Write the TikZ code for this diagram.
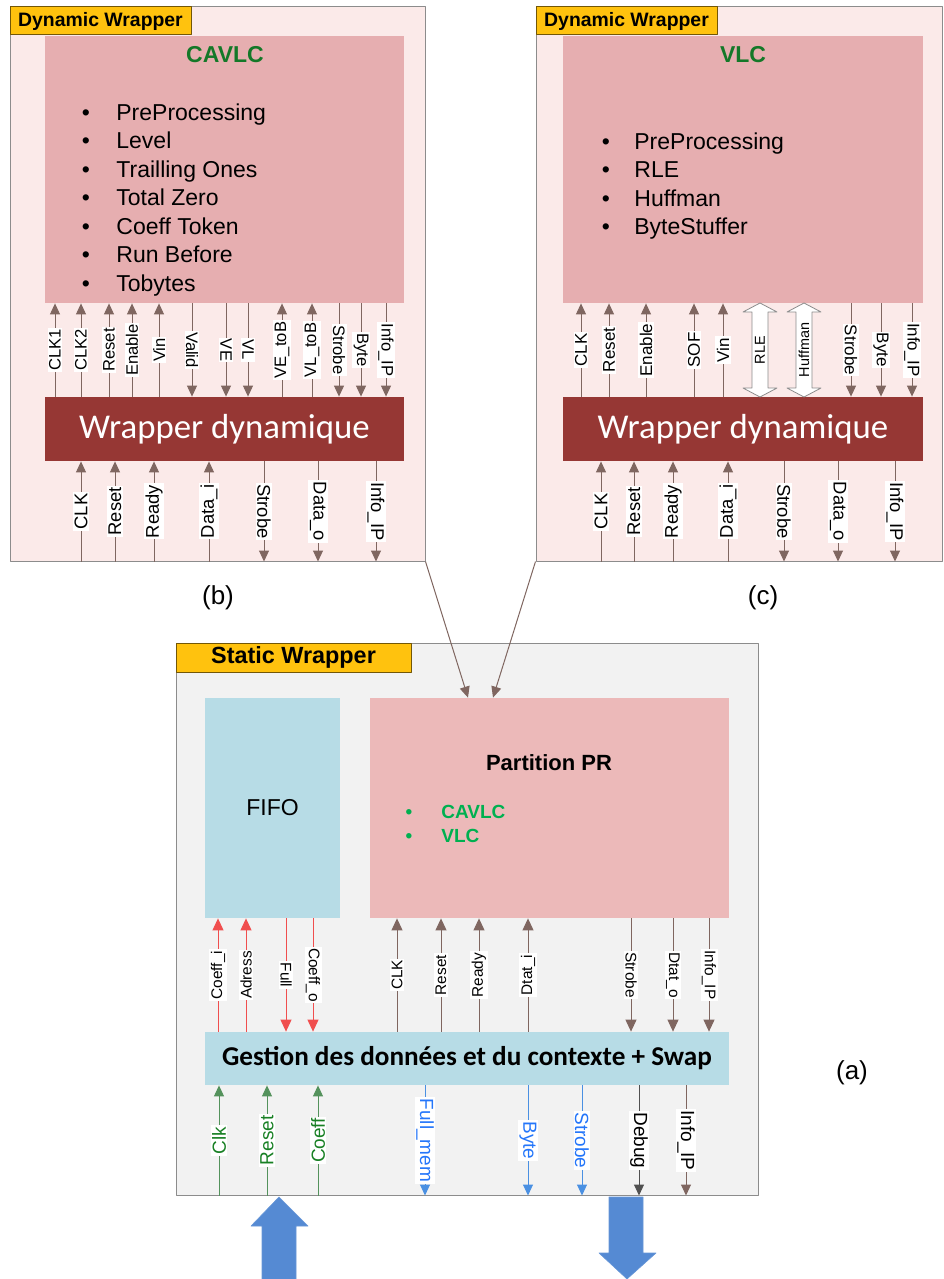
\documentclass[tikz,border=0pt]{standalone}
\usepackage{fontspec}
\setmainfont{Liberation Sans}
\newfontfamily\calibri{Carlito}
\usetikzlibrary{arrows.meta,positioning,fit,calc}
\definecolor{dwFrame}{RGB}{251,234,233}
\definecolor{dwPink}{RGB}{230,174,176}
\definecolor{dwRed}{RGB}{150,55,52}
\definecolor{tagGold}{RGB}{255,194,14}
\definecolor{swGrey}{RGB}{242,242,242}
\definecolor{swBlue}{RGB}{183,220,230}
\definecolor{prPink}{RGB}{236,185,185}
\definecolor{sigBrown}{RGB}{127,102,96}
\definecolor{sigRed}{RGB}{240,78,78}
\definecolor{sigGreen}{RGB}{84,146,92}
\definecolor{txtGreen}{RGB}{24,128,36}
\definecolor{sigBlue}{RGB}{74,144,226}
\definecolor{txtBlue}{RGB}{36,118,250}
\definecolor{sigDark}{RGB}{80,80,80}
\definecolor{bigBlue}{RGB}{85,138,211}
\definecolor{titleGreen}{RGB}{20,120,40}
\definecolor{bulletGreen}{RGB}{0,176,80}

\tikzset{
  frame/.style={draw=black!45, line width=0.5pt, inner sep=0pt},
  tagbox/.style={draw=black!55!tagGold, fill=tagGold, line width=0.5pt, inner sep=0pt},
  block/.style={inner sep=0pt},
  sig/.style={draw=sigBrown, line width=0.5pt, -{Triangle[length=5.5pt,width=5pt]}},
  bigtip/.style={-{Triangle[length=6pt,width=5.5pt]}},
  lbl/.style={fill=white, inner sep=0.7pt, font=\fontsize{#1}{#1}\selectfont},
  lbl/.default=8.3,
  item/.style={inner sep=0pt, font=\fontsize{11.5}{13}\selectfont},
  wraptxt/.style={inner sep=0pt, text=white, font=\calibri\fontsize{17.4}{20}\selectfont},
  dblarrow/.style={draw=black!45, fill=white, line width=0.4pt},
  bigarrow/.style={fill=bigBlue, draw=bigBlue!90!white, line width=0.3pt}
}

\begin{document}
\begin{tikzpicture}[x=0.5pt, y=-0.5pt, line join=round]
  \useasboundingbox (0,0) rectangle (943,1279);

  % dynamic wrappers
  \node[frame, fill=dwFrame, fit={(10,7) (425,561)}] (dynL) {};
  \node[frame, fill=dwFrame, fit={(536,7) (942,561)}] (dynR) {};
  \node[tagbox, fit={(10,7) (191,35)}] (tagL) {};
  \node[tagbox, fit={(536,7) (717,35)}] (tagR) {};
  \node[inner sep=0pt, font=\bfseries\fontsize{9.7}{11}\selectfont] (tagLt) at (tagL) {Dynamic Wrapper};
  \node[inner sep=0pt, font=\bfseries\fontsize{9.7}{11}\selectfont] (tagRt) at (tagR) {Dynamic Wrapper};

  \node[fill=dwPink, block, fit={(45,36) (404,303)}] (procL) {};
  \node[fill=dwPink, block, fit={(563,36) (923,303)}] (procR) {};
  \node[fill=dwRed, block, fit={(45,397) (404,461)}] (wrapL) {};
  \node[fill=dwRed, block, fit={(563,397) (923,461)}] (wrapR) {};
  \node[wraptxt] (wrapLt) at (wrapL) {Wrapper dynamique};
  \node[wraptxt] (wrapRt) at (wrapR) {Wrapper dynamique};

  \node[item, text=titleGreen, font=\bfseries\fontsize{11.5}{13}\selectfont, anchor=base] (titleL) at (225,63) {CAVLC};
  \node[item, text=titleGreen, font=\bfseries\fontsize{11.5}{13}\selectfont, anchor=base] (titleR) at (743,63) {VLC};

  \foreach \t [count=\i] in {PreProcessing, Level, Trailling Ones, Total Zero, Coeff Token, Run Before, Tobytes} {
    \node[item, anchor=base] (dotL\i) at (86,{120+28.5*(\i-1)}) {\textbullet};
    \node[item, anchor=base west] (itemL\i) at (116,{120+28.5*(\i-1)}) {\t};
  }
  \foreach \t [count=\i] in {PreProcessing, RLE, Huffman, ByteStuffer} {
    \node[item, anchor=base] (dotR\i) at (606,{149+28.5*(\i-1)}) {\textbullet};
    \node[item, anchor=base west] (itemR\i) at (634,{149+28.5*(\i-1)}) {\t};
  }

  % left wrapper signals
  \foreach \x/\s in {55/CLK1, 81/CLK2, 109/Reset, 132/Enable, 159/Vin, 282/VE\_toB, 312/VL\_toB}
    \draw[sig] (wrapL.north -| \x,0) -- node[lbl, rotate=90] {\s} (procL.south -| \x,0);
  \foreach \x/\s in {192/Valid, 226/VE, 248/VL, 339/Strobe, 361/Byte, 386/Info\_IP}
    \draw[sig] (procL.south -| \x,0) -- node[lbl, rotate=-90] {\s} (wrapL.north -| \x,0);
  \foreach \x/\s in {81/CLK, 115/Reset, 154/Ready, 209/Data\_i}
    \draw[sig] (dynL.south -| \x,0) -- node[lbl=9.2, rotate=90] {\s} (wrapL.south -| \x,0);
  \foreach \x/\s in {264/Strobe, 318/Data\_o, 376/Info\_IP}
    \draw[sig] (wrapL.south -| \x,0) -- node[lbl=9.2, rotate=-90] {\s} (dynL.south -| \x,0);

  % right wrapper signals
  \foreach \x/\s in {581/CLK, 609/Reset, 646/Enable, 694/SOF, 723/Vin}
    \draw[sig] (wrapR.north -| \x,0) -- node[lbl=8.5, rotate=90] {\s} (procR.south -| \x,0);
  \foreach \x/\s in {851/Strobe, 881/Byte, 912/Info\_IP}
    \draw[sig] (procR.south -| \x,0) -- node[lbl=8.5, rotate=-90] {\s} (wrapR.north -| \x,0);
  \foreach \x/\s in {760/RLE, 804/Huffman} {
    \draw[dblarrow] (\x,303) -- (\x+17,312) -- (\x+8,312) -- (\x+8,388) -- (\x+17,388) -- (\x,397)
      -- (\x-17,388) -- (\x-8,388) -- (\x-8,312) -- (\x-17,312) -- cycle;
    \node[inner sep=0pt, rotate=90, font=\fontsize{7.2}{8}\selectfont] (dbl\s) at (\x,350) {\s};
  }
  \foreach \x/\s in {601/CLK, 634/Reset, 673/Ready, 728/Data\_i}
    \draw[sig] (dynR.south -| \x,0) -- node[lbl=9.2, rotate=90] {\s} (wrapR.south -| \x,0);
  \foreach \x/\s in {784/Strobe, 838/Data\_o, 895/Info\_IP}
    \draw[sig] (wrapR.south -| \x,0) -- node[lbl=9.2, rotate=-90] {\s} (dynR.south -| \x,0);

  \node[font=\fontsize{13}{15}\selectfont] (capB) at (218,598) {(b)};
  \node[font=\fontsize{13}{15}\selectfont] (capC) at (763,598) {(c)};

  % static wrapper
  \node[frame, fill=swGrey, fit={(176,643) (758,1195)}] (statW) {};
  \node[tagbox, fit={(176,643) (411,672)}] (tagS) {};
  \node[inner sep=0pt, font=\bfseries\fontsize{11.7}{13}\selectfont] (tagSt) at (tagS) {Static Wrapper};
  \node[fill=swBlue, block, fit={(205,698) (340,918)}] (fifo) {};
  \node[inner sep=0pt, font=\fontsize{11.5}{13}\selectfont] (fifoT) at (fifo) {FIFO};
  \node[fill=prPink, block, fit={(370,698) (729,918)}] (partPR) {};
  \node[item, font=\bfseries\fontsize{11}{13}\selectfont, anchor=base] (partT) at (549,770) {Partition PR};
  \foreach \t [count=\i] in {CAVLC, VLC} {
    \node[item, text=bulletGreen, font=\bfseries\fontsize{9.5}{11}\selectfont, anchor=base] (dotP\i) at (409,{818+24*(\i-1)}) {\textbullet};
    \node[item, text=bulletGreen, font=\bfseries\fontsize{9.5}{11}\selectfont, anchor=base west] (itemP\i) at (441,{818+24*(\i-1)}) {\t};
  }
  \node[fill=swBlue, block, fit={(205,1032) (729,1085)}] (gest) {};
  \node[inner sep=0pt, font=\calibri\bfseries\fontsize{13.6}{16}\selectfont] (gestT) at (gest) {Gestion des données et du contexte + Swap};

  \draw[sig] (dynL.south east) -- (partPR.north -| 468,0);
  \draw[sig] (dynR.south west) -- (partPR.north -| 493,0);

  \foreach \x/\s in {218/Coeff\_i, 246/Adress}
    \draw[sig, bigtip, draw=sigRed, sigRed] (gest.north -| \x,0) -- node[lbl=7.7, rotate=90, text=black] {\s} (fifo.south -| \x,0);
  \foreach \x/\s in {286/Full, 313/Coeff\_o}
    \draw[sig, bigtip, draw=sigRed, sigRed] (fifo.south -| \x,0) -- node[lbl=7.7, rotate=-90, text=black] {\s} (gest.north -| \x,0);
  \foreach \x/\s in {397/CLK, 441/Reset, 479/Ready, 528/Dtat\_i}
    \draw[sig, bigtip] (gest.north -| \x,0) -- node[lbl=7.7, rotate=90] {\s} (partPR.south -| \x,0);
  \foreach \x/\s in {631/Strobe, 673/Dtat\_o, 709/Info\_IP}
    \draw[sig, bigtip] (partPR.south -| \x,0) -- node[lbl=7.7, rotate=-90] {\s} (gest.north -| \x,0);

  \foreach \x/\s in {219/Clk, 267/Reset, 318/Coeff}
    \draw[sig, draw=sigGreen, sigGreen] (statW.south -| \x,0) -- node[lbl=9.5, rotate=90, text=txtGreen] {\s} (gest.south -| \x,0);
  \foreach \x/\s in {425/Full\_mem, 528/Byte, 582/Strobe}
    \draw[sig, draw=sigBlue, sigBlue] (gest.south -| \x,0) -- node[lbl=9.5, rotate=-90, text=txtBlue] {\s} (statW.south -| \x,0);
  \draw[sig, draw=sigDark, sigDark] (gest.south -| 639,0) -- node[lbl=9.5, rotate=-90, text=black] {Debug} (statW.south -| 639,0);
  \draw[sig] (gest.south -| 686,0) -- node[lbl=9.5, rotate=-90] {Info\_IP} (statW.south -| 686,0);

  \node[font=\fontsize{13}{15}\selectfont] (capA) at (852,1073) {(a)};

  % in / out block arrows
  \fill[bigarrow] (279,1197) -- (308,1226) -- (296,1226) -- (296,1280) -- (262,1280) -- (262,1226) -- (251,1226) -- cycle;
  \fill[bigarrow] (609,1197) -- (643,1197) -- (643,1253) -- (656,1253) -- (627,1279) -- (599,1253) -- (609,1253) -- cycle;
\end{tikzpicture}
\end{document}
